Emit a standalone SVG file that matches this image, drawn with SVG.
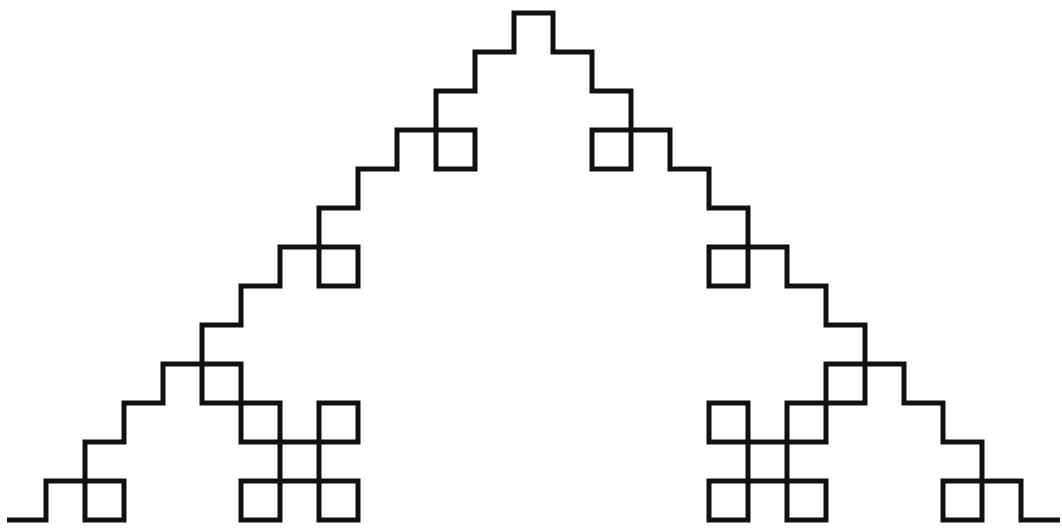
<svg xmlns="http://www.w3.org/2000/svg" width="1062" height="531" viewBox="0 0 1062 531">
<style>.curve{fill:none;stroke:#111;stroke-width:5;stroke-linejoin:miter;stroke-linecap:butt}</style>
<rect width="1062" height="531" fill="#fff"/>
<g id="koch-curve">
<path class="curve" d="M7 520
h39 v-39 h39 v39 h39 v-39 h-39 v-39 h39 v-39 h39 v-39 h39 v39 h39 v39 h39 v39 h-39 v39 h39 v-39 h39 v39 h39
v-39 h-39 v-39 h39 v-39 h-39 v39 h-39 v-39 h-39 v-39 h-39 v-39 h39 v-39 h39 v-39 h39 v39 h39 v-39 h-39 v-39 h39 v-39
h39 v-39 h39 v39 h39 v-39 h-39 v-39 h39 v-39 h39 v-39 h39 v39 h39 v39 h39 v39 h-39 v39 h39 v-39 h39 v39 h39
v39 h39 v39 h-39 v39 h39 v-39 h39 v39 h39 v39 h39 v39 h-39 v39 h-39 v39 h-39 v-39 h-39 v39 h39 v39 h-39 v39
h39 v-39 h39 v39 h39 v-39 h-39 v-39 h39 v-39 h39 v-39 h39 v39 h39 v39 h39 v39 h-39 v39 h39 v-39 h39 v39 h39"/>
</g>
</svg>
